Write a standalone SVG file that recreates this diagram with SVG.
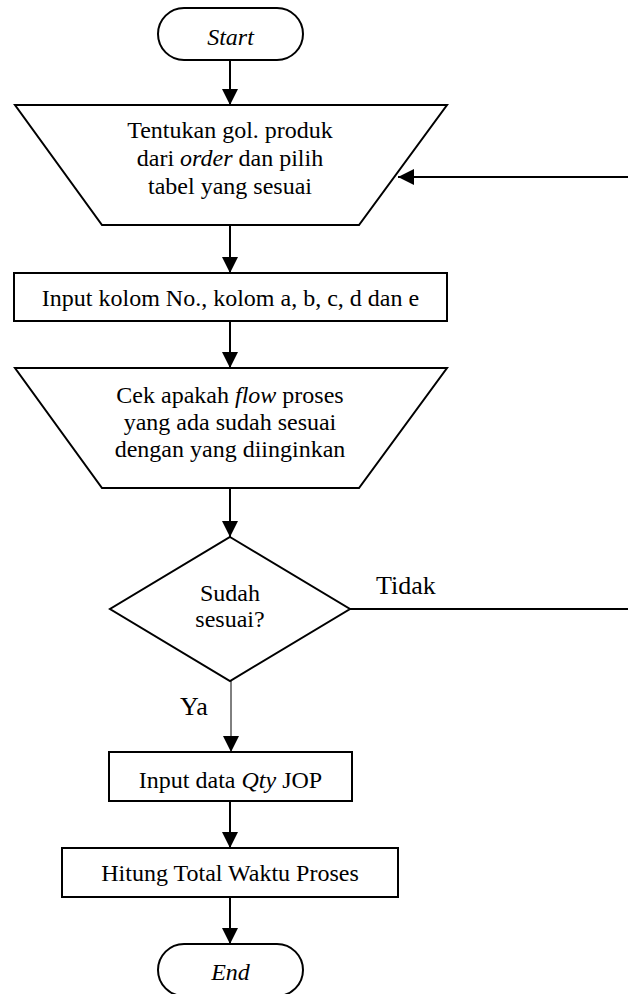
<svg xmlns="http://www.w3.org/2000/svg" width="628" height="994" viewBox="0 0 628 994">
<style>
.s{fill:#fff;stroke:#000;stroke-width:2}
.t{font-family:"Liberation Serif","Times New Roman",serif;font-size:24px;fill:#000;text-anchor:middle}
.l{font-family:"Liberation Serif","Times New Roman",serif;font-size:26px;fill:#000}
.c{fill:none;stroke:#000;stroke-width:2}
.c1{fill:none;stroke:#000;stroke-width:1}
.i{font-style:italic}
</style>
<defs>
<marker id="ah" markerUnits="userSpaceOnUse" markerWidth="16" markerHeight="18" refX="16" refY="8" orient="auto">
<path d="M0,0 L16,8 L0,16 Z" fill="#000"/>
</marker>
</defs>
<rect width="628" height="994" fill="#fff"/>
<g id="connectors">
<line class="c" x1="230" y1="60" x2="230" y2="105" marker-end="url(#ah)"/>
<line class="c" x1="230" y1="225" x2="230" y2="273" marker-end="url(#ah)"/>
<line class="c" x1="230" y1="321" x2="230" y2="368" marker-end="url(#ah)"/>
<line class="c" x1="230" y1="488" x2="230" y2="537" marker-end="url(#ah)"/>
<line class="c1" x1="231" y1="681" x2="231" y2="752" marker-end="url(#ah)"/>
<line class="c" x1="230" y1="801" x2="230" y2="848" marker-end="url(#ah)"/>
<line class="c" x1="230" y1="897" x2="230" y2="944" marker-end="url(#ah)"/>
<line class="c" x1="350" y1="609" x2="630" y2="609"/>
<line class="c" x1="630" y1="177" x2="398" y2="177" marker-end="url(#ah)"/>
<text class="l" x="376" y="594">Tidak</text>
<text class="l" x="180" y="715">Ya</text>
</g>
<g id="start">
<rect class="s" x="158" y="8" width="145" height="52" rx="26" ry="26"/>
<text class="t i" x="230.5" y="45">Start</text>
</g>
<g id="tentukan">
<polygon class="s" points="15,105 447,105 359,225 102,225"/>
<text class="t" x="230" y="138">Tentukan gol. produk</text>
<text class="t" x="230" y="166">dari <tspan class="i">order</tspan> dan pilih</text>
<text class="t" x="230" y="194">tabel yang sesuai</text>
</g>
<g id="input-kolom">
<rect class="s" x="14" y="273" width="433" height="48"/>
<text class="t" x="230.5" y="306">Input kolom No., kolom a, b, c, d dan e</text>
</g>
<g id="cek">
<polygon class="s" points="15,368 447,368 359,488 102,488"/>
<text class="t" x="230" y="403">Cek apakah <tspan class="i">flow</tspan> proses</text>
<text class="t" x="230" y="430">yang ada sudah sesuai</text>
<text class="t" x="230" y="457">dengan yang diinginkan</text>
</g>
<g id="decision">
<polygon class="s" points="230,537 350,609 230,681 110,609"/>
<text class="t" x="230" y="601">Sudah</text>
<text class="t" x="230" y="627">sesuai?</text>
</g>
<g id="input-qty">
<rect class="s" x="109" y="752" width="243" height="49"/>
<text class="t" x="230.5" y="788">Input data <tspan class="i">Qty</tspan> JOP</text>
</g>
<g id="hitung">
<rect class="s" x="62" y="848" width="336" height="49"/>
<text class="t" x="230" y="881">Hitung Total Waktu Proses</text>
</g>
<g id="end">
<rect class="s" x="158" y="944" width="145" height="52" rx="26" ry="26"/>
<text class="t i" x="230.5" y="980">End</text>
</g>
</svg>
